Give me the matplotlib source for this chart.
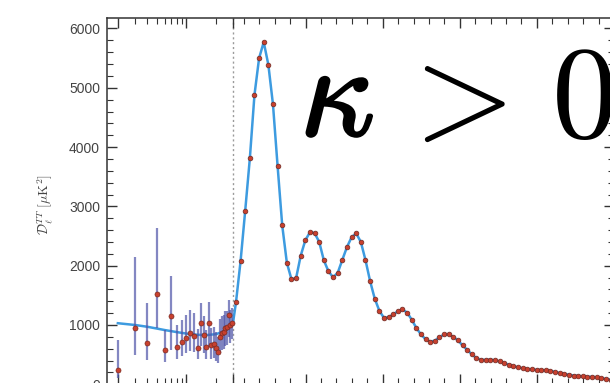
import numpy as np
import matplotlib
import matplotlib.pyplot as plt
import matplotlib.patheffects as pe
from matplotlib.ticker import FixedLocator, NullFormatter

matplotlib.use('Agg')

# low-ell points (ell = 2..29)
ell_lo = [2, 3, 4, 5, 6, 7, 8, 9, 10, 11, 12, 13, 14, 15, 16, 17, 18, 19, 20, 21,
          22, 23, 24, 25, 26, 27, 28, 29]
dl_lo = [241, 949, 696, 1522, 578, 1152, 629, 713, 781, 865, 814, 612, 1034, 831,
         629, 1034, 663, 679, 612, 544, 797, 865, 882, 949, 966, 1168, 1000, 1034]
bar_lo = [106, 494, 410, 949, 376, 578, 420, 470, 520, 560, 540, 420, 640, 520,
          420, 630, 430, 440, 400, 360, 520, 580, 600, 640, 660, 800, 700, 760]
bar_hi = [748, 2146, 1371, 2635, 915, 1826, 1000, 1080, 1170, 1250, 1200, 930, 1370,
          1150, 920, 1380, 950, 960, 880, 800, 1100, 1160, 1170, 1230, 1240, 1430,
          1260, 1280]

# model curve at low ell
ell_th_lo = [2, 3, 4, 5, 6, 8, 10, 13, 16, 20, 23, 25, 27, 29, 30]
dl_th_lo = [1030, 1000, 970, 940, 915, 880, 855, 835, 830, 845, 880, 910, 950, 1010, 1060]

# binned high-ell points
ell_hi = [48, 78, 108, 138, 168, 198, 228, 258, 288, 318, 348, 378, 408, 438, 468,
          498, 528, 558, 588, 618, 648, 678, 708, 738, 768, 798, 828, 858, 888, 918,
          948, 978, 1008, 1038, 1068, 1098, 1128, 1158, 1188, 1218, 1248, 1278, 1308,
          1338, 1368, 1398, 1428, 1458, 1488, 1518, 1548, 1578, 1608, 1638, 1668, 1698,
          1728, 1758, 1788, 1818, 1848, 1878, 1908, 1938, 1968, 1998, 2028, 2058, 2088,
          2118, 2148, 2178, 2208, 2238, 2268, 2298, 2328, 2358, 2388, 2418, 2448, 2478]
dl_hi = [1380, 2080, 2930, 3810, 4880, 5500, 5770, 5390, 4720, 3680, 2680, 2050, 1770,
         1790, 2170, 2430, 2565, 2550, 2400, 2090, 1905, 1805, 1880, 2100, 2315, 2480,
         2545, 2400, 2096, 1740, 1445, 1240, 1120, 1130, 1180, 1230, 1262, 1210, 1090,
         950, 840, 760, 720, 735, 795, 840, 840, 800, 740, 655, 580, 505, 440, 415,
         410, 415, 405, 385, 360, 330, 305, 285, 270, 258, 250, 245, 240, 235, 225,
         210, 190, 175, 160, 148, 140, 133, 128, 125, 118, 105, 90, 78]

A_LOG = 42.5   # px per ln(ell) below ell=30
B_LIN = 6.5    # ell per px above ell=30


def forward(l):
    l = np.asarray(l, dtype=float)
    lg = A_LOG * np.log(np.maximum(l, 1e-3) / 30.0)
    return np.where(l < 30, lg, (l - 30.0) / B_LIN)


def inverse(u):
    u = np.asarray(u, dtype=float)
    return np.where(u < 0, 30.0 * np.exp(np.minimum(u, 0) / A_LOG), 30.0 + B_LIN * u)


W, H = 610, 383
fig = plt.figure(figsize=(W / 100, H / 100), dpi=100)
ax = fig.add_axes([107 / W, (H - 384.3) / H, 507 / W, 366.3 / H])
ax.set_xscale('function', functions=(forward, inverse))
ax.set_xlim(1.55, 2500)
ax.set_ylim(0, 6177)

ax.axvline(30, color='#9a9a9a', ls=(0, (1.5, 2)), lw=1, zorder=1)

ell_th = ell_th_lo + ell_hi
dl_th = dl_th_lo + dl_hi
ax.plot(ell_th, dl_th, color='#3d9be0', lw=1.8, zorder=2)

err = [np.array(dl_lo) - np.array(bar_lo), np.array(bar_hi) - np.array(dl_lo)]
ax.errorbar(ell_lo, dl_lo, yerr=err, fmt='none', ecolor='#4f55a8', elinewidth=1.6,
            alpha=0.7, zorder=3)
ax.plot(ell_lo, dl_lo, 'o', ms=3.6, color='#c8402e', mec='#7a2a20', mew=0.5, zorder=4)
ax.plot(ell_hi, dl_hi, 'o', ms=3.4, color='#c8402e', mec='#6e2a24', mew=0.5, zorder=4)

# ticks
ax.xaxis.set_major_locator(FixedLocator([2, 10, 30, 500, 1000, 1500, 2000]))
ax.xaxis.set_minor_locator(FixedLocator([3, 4, 5, 6, 7, 8, 9, 20, 100, 200, 300, 400,
                                         600, 700, 800, 900, 1100, 1200, 1300, 1400,
                                         1600, 1700, 1800, 1900, 2100, 2200, 2300, 2400]))
ax.xaxis.set_major_formatter(NullFormatter())
ax.xaxis.set_minor_formatter(NullFormatter())
ax.set_yticks([0, 1000, 2000, 3000, 4000, 5000, 6000])
ax.yaxis.set_minor_locator(FixedLocator(list(range(0, 6200, 200))))
ax.tick_params(which='both', direction='in', top=True, right=True, color='#333333')
ax.tick_params(which='major', length=7, width=1)
ax.tick_params(which='minor', length=4, width=0.8)
ax.tick_params(axis='y', which='major', pad=5, labelsize=10, labelcolor='#444444')
for lab in ax.get_yticklabels():
    lab.set_family('Liberation Sans')
for sp in ax.spines.values():
    sp.set_color('#333333')
    sp.set_linewidth(1.1)

fig.text(45 / W, 1 - 204 / H, r'$\mathcal{D}_\ell^{TT}\ [\mu\mathrm{K}^2]$', rotation=90,
         ha='center', va='center', fontsize=10, color='#444444', math_fontfamily='cm')

# big label: heavier kappa, then ">" and "0"
fs_big = 94
fig.text(300 / W, 1 - 136 / H, r'$\kappa$', ha='left', va='baseline', fontsize=fs_big,
         color='black', math_fontfamily='cm',
         path_effects=[pe.withStroke(linewidth=2, foreground='black')])
fig.text(391 / W, 1 - 137 / H, r'$>$', ha='left', va='baseline', fontsize=fs_big,
         color='black', math_fontfamily='cm')
fig.text(551 / W, 1 - 137 / H, r'$0$', ha='left', va='baseline', fontsize=fs_big,
         color='black', math_fontfamily='cm')

fig.savefig('out.png', dpi=100, facecolor='white')
